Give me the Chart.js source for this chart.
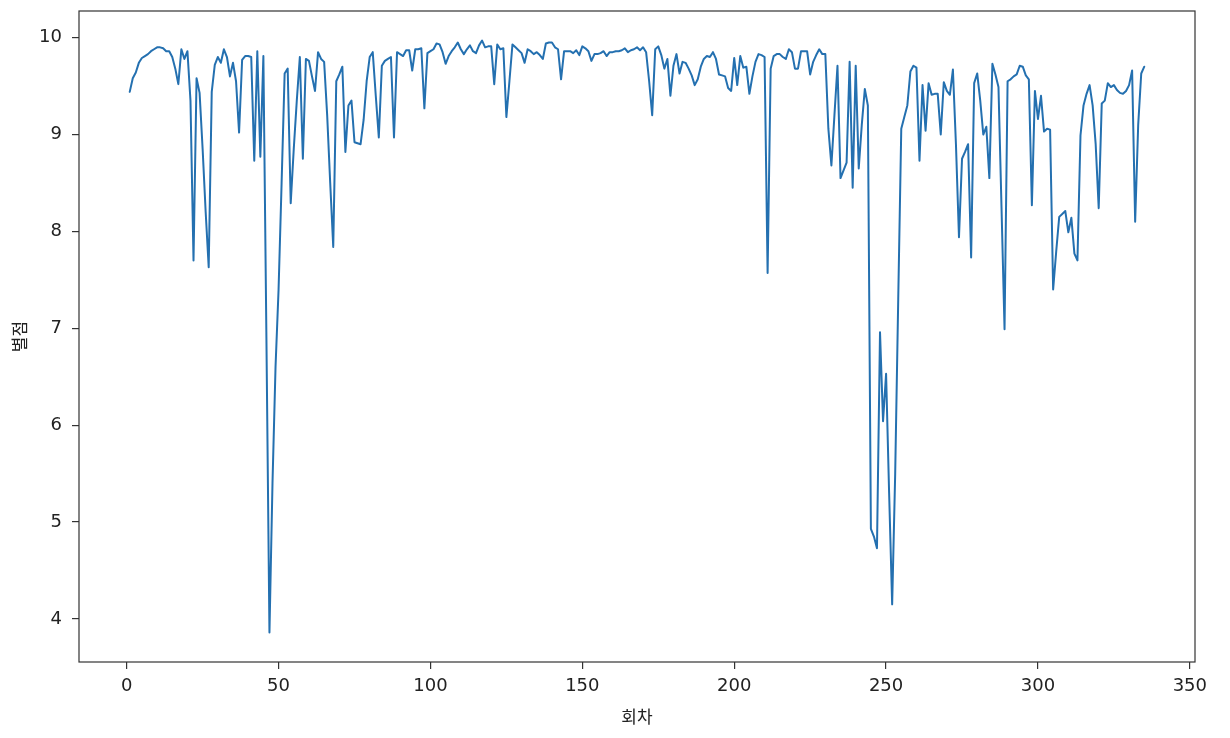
<!DOCTYPE html>
<html lang="ko">
<head>
<meta charset="utf-8">
<script src="https://cdn.jsdelivr.net/npm/chart.js@4.4.1/dist/chart.umd.min.js"></script>
<style>
  html, body { margin: 0; padding: 0; background: #fff; }
  #wrap { width: 1230px; height: 738px; }
</style>
</head>
<body>
<div id="wrap"><canvas id="grafico" width="1230" height="738"></canvas></div>
<script>
const xTitle = '회차';
const yTitle = '별점';
const xTicks = [0, 50, 100, 150, 200, 250, 300, 350];
const yTicks = [4, 5, 6, 7, 8, 9, 10];
const firstEpisode = 1;

// 별점 per 회차 (1..335)
const ratings = [
  9.44, 9.58, 9.64, 9.74, 9.79, 9.81, 9.83, 9.86, 9.88, 9.90, // 1
  9.90, 9.89, 9.86, 9.86, 9.80, 9.68, 9.52, 9.88, 9.78, 9.86, // 11
  9.35, 7.70, 9.58, 9.43, 8.85, 8.20, 7.63, 9.44, 9.72, 9.80, // 21
  9.74, 9.88, 9.80, 9.60, 9.74, 9.55, 9.02, 9.77, 9.81, 9.81, // 31
  9.80, 8.73, 9.86, 8.77, 9.81, 6.90, 3.86, 5.40, 6.60, 7.40, // 41
  8.50, 9.63, 9.68, 8.29, 8.85, 9.35, 9.80, 8.75, 9.78, 9.76, // 51
  9.60, 9.45, 9.85, 9.78, 9.75, 9.20, 8.50, 7.84, 9.55, 9.62, // 61
  9.70, 8.82, 9.30, 9.35, 8.92, 8.91, 8.90, 9.15, 9.55, 9.80, // 71
  9.85, 9.40, 8.97, 9.71, 9.76, 9.78, 9.80, 8.97, 9.85, 9.83, // 81
  9.81, 9.87, 9.87, 9.66, 9.88, 9.88, 9.89, 9.27, 9.84, 9.86, // 91
  9.88, 9.94, 9.93, 9.85, 9.73, 9.81, 9.86, 9.90, 9.95, 9.88, // 101
  9.83, 9.88, 9.92, 9.86, 9.84, 9.92, 9.97, 9.90, 9.91, 9.91, // 111
  9.52, 9.93, 9.88, 9.89, 9.18, 9.55, 9.93, 9.90, 9.87, 9.84, // 121
  9.74, 9.88, 9.86, 9.83, 9.85, 9.82, 9.78, 9.94, 9.95, 9.95, // 131
  9.90, 9.88, 9.57, 9.86, 9.86, 9.86, 9.84, 9.87, 9.82, 9.91, // 141
  9.89, 9.86, 9.76, 9.83, 9.83, 9.84, 9.86, 9.81, 9.85, 9.85, // 151
  9.86, 9.86, 9.87, 9.89, 9.85, 9.87, 9.88, 9.90, 9.87, 9.90, // 161
  9.85, 9.55, 9.20, 9.88, 9.91, 9.82, 9.68, 9.78, 9.40, 9.71, // 171
  9.83, 9.63, 9.75, 9.74, 9.68, 9.61, 9.51, 9.57, 9.70, 9.78, // 181
  9.81, 9.80, 9.85, 9.78, 9.62, 9.61, 9.60, 9.48, 9.45, 9.79, // 191
  9.51, 9.81, 9.69, 9.70, 9.42, 9.60, 9.75, 9.83, 9.82, 9.80, // 201
  7.57, 9.68, 9.81, 9.83, 9.83, 9.80, 9.78, 9.88, 9.85, 9.68, // 211
  9.68, 9.86, 9.86, 9.86, 9.62, 9.75, 9.82, 9.88, 9.83, 9.83, // 221
  9.06, 8.68, 9.20, 9.71, 8.55, 8.63, 8.71, 9.75, 8.45, 9.71, // 231
  8.65, 9.10, 9.47, 9.30, 4.93, 4.85, 4.73, 6.96, 6.04, 6.53, // 241
  5.30, 4.15, 5.50, 7.30, 9.06, 9.18, 9.30, 9.65, 9.71, 9.69, // 251
  8.73, 9.51, 9.04, 9.53, 9.41, 9.42, 9.42, 9.00, 9.54, 9.45, // 261
  9.41, 9.67, 8.90, 7.94, 8.75, 8.82, 8.90, 7.73, 9.53, 9.63, // 271
  9.35, 9.00, 9.08, 8.55, 9.73, 9.62, 9.49, 8.25, 6.99, 9.55, // 281
  9.57, 9.60, 9.62, 9.71, 9.70, 9.61, 9.57, 8.27, 9.45, 9.16, // 291
  9.40, 9.03, 9.06, 9.05, 7.40, 7.79, 8.15, 8.18, 8.21, 7.99, // 301
  8.14, 7.77, 7.70, 8.99, 9.30, 9.42, 9.51, 9.30, 8.90, 8.24, // 311
  9.32, 9.35, 9.53, 9.49, 9.51, 9.46, 9.43, 9.42, 9.45, 9.51, // 321
  9.66, 8.10, 9.10, 9.63, 9.70                                // 331
];

const points = ratings.map((v, i) => ({ x: firstEpisode + i, y: v }));

const INK = '#222';
const TICK_FONT = { family: "'DejaVu Sans', sans-serif", size: 18 };
const TITLE_FONT = { family: "'Noto Sans CJK KR', 'DejaVu Sans', sans-serif", size: 17 };

// matplotlib-like box around the plot area
const frame = {
  id: 'frame',
  afterDatasetsDraw(chart) {
    const { ctx, chartArea: a } = chart;
    ctx.save();
    ctx.strokeStyle = '#333';
    ctx.lineWidth = 1.2;
    ctx.strokeRect(a.left, a.top, a.right - a.left, a.bottom - a.top);
    ctx.restore();
  }
};

new Chart(document.getElementById('grafico'), {
  type: 'line',
  data: {
    datasets: [{
      data: points,
      borderColor: '#2470b0',
      borderWidth: 2,
      borderJoinStyle: 'round',
      borderCapStyle: 'round',
      pointRadius: 0,
      tension: 0,
      fill: false
    }]
  },
  options: {
    responsive: false,
    animation: false,
    devicePixelRatio: 1,
    layout: { padding: { top: 11, right: 35, left: 0, bottom: 0 } },
    plugins: { legend: { display: false }, tooltip: { enabled: false } },
    scales: {
      x: {
        type: 'linear',
        min: -15.7,
        max: 351.7,
        afterBuildTicks: s => { s.ticks = xTicks.map(v => ({ value: v })); },
        afterFit: s => { s.height = 76; s.paddingLeft = 0; s.paddingRight = 0; },
        border: { display: false },
        grid: { drawOnChartArea: false, drawTicks: true, tickLength: 7, tickColor: '#333', lineWidth: 1.2 },
        ticks: { color: INK, font: TICK_FONT, padding: 7, maxRotation: 0 },
        title: { display: true, text: xTitle, color: INK, font: TITLE_FONT, padding: { top: 0, bottom: 11 } }
      },
      y: {
        min: 3.555,
        max: 10.275,
        afterBuildTicks: s => { s.ticks = yTicks.map(v => ({ value: v })); },
        afterFit: s => { s.width = 79; s.paddingTop = 0; s.paddingBottom = 0; },
        border: { display: false },
        grid: { drawOnChartArea: false, drawTicks: true, tickLength: 7, tickColor: '#333', lineWidth: 1.2 },
        ticks: { color: INK, font: TICK_FONT, padding: 10 },
        title: { display: true, text: yTitle, color: INK, font: TITLE_FONT, padding: { top: 9, bottom: 0 } }
      }
    }
  },
  plugins: [frame]
});
</script>
</body>
</html>
